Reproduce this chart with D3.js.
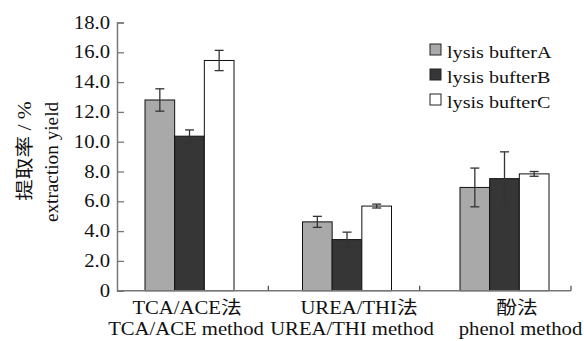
<!DOCTYPE html>
<html>
<head>
<meta charset="utf-8">
<script src="https://cdn.jsdelivr.net/npm/d3@7"></script>
<style>
  body { margin: 0; background: #fff; }
  text { font-family: "Liberation Serif", "Noto Sans CJK SC", serif; fill: #111; }
</style>
</head>
<body>
<div id="chart"></div>
<script>
const width = 584, height = 341;

// data
const methodsCn = ["TCA/ACE法", "UREA/THI法", "酚法"];
const methodsEn = ["TCA/ACE method", "UREA/THI method", "phenol method"];
const buffers = ["lysis bufterA", "lysis bufterB", "lysis bufterC"];
const bufferA = [12.8, 4.62, 6.93];
const bufferB = [10.37, 3.43, 7.52];
const bufferC = [15.45, 5.68, 7.84];
const errA = [0.75, 0.37, 1.3];
const errB = [0.42, 0.5, 1.8];
const errC = [0.68, 0.13, 0.16];
const yTicks = [0, 2, 4, 6, 8, 10, 12, 14, 16, 18];

const colors = ["#a9a9a9", "#363636", "#ffffff"];
const values = [bufferA, bufferB, bufferC];
const errors = [errA, errB, errC];
const sx = 1.15; // glyphs in the original are a bit wide
// labels are nudged off the group centre so the long ones fit
const cnShift = [-2.5, 12, 12.5];
const enShift = [-3.5, 5, 16];

const svg = d3.select("#chart").append("svg")
  .attr("width", width)
  .attr("height", height);

const x0 = 117, x1 = 571, yTop = 22.5, yBot = 290.7;

const y = d3.scaleLinear().domain([0, 18]).range([yBot, yTop]);

// group centres and the sections of the axis
const section = d3.scaleBand().domain(methodsCn).range([x0, x1]);
const xc = d3.scalePoint().domain(methodsCn).range([189.5, 504.5]);
const xs = d3.scaleBand().domain(buffers).range([-44.5, 44.5]);

// bars
buffers.forEach((b, j) => {
  svg.append("g").selectAll("rect")
    .data(methodsCn)
    .enter().append("rect")
    .attr("x", m => xc(m) + xs(b))
    .attr("y", (m, i) => y(values[j][i]))
    .attr("width", xs.bandwidth())
    .attr("height", (m, i) => yBot - y(values[j][i]))
    .attr("fill", colors[j])
    .attr("stroke", "#111")
    .attr("stroke-width", 1);
});

// error bars
buffers.forEach((b, j) => {
  const g = svg.append("g").attr("stroke", "#333").attr("stroke-width", 1.3);
  methodsCn.forEach((m, i) => {
    const cx = xc(m) + xs(b) + xs.bandwidth() / 2;
    const hi = y(values[j][i] + errors[j][i]), lo = y(values[j][i] - errors[j][i]);
    g.append("line").attr("x1", cx).attr("x2", cx).attr("y1", hi).attr("y2", lo);
    g.append("line").attr("x1", cx - 4.5).attr("x2", cx + 4.5).attr("y1", hi).attr("y2", hi);
    g.append("line").attr("x1", cx - 4.5).attr("x2", cx + 4.5).attr("y1", lo).attr("y2", lo);
  });
});

// y axis
const yAxis = svg.append("g")
  .attr("transform", `translate(${x0},0)`)
  .call(d3.axisRight(y).tickValues(yTicks).tickSize(7).tickFormat(""));
yAxis.select(".domain").attr("stroke", "#777").attr("stroke-width", 1.5);
yAxis.selectAll(".tick line").attr("stroke", "#777").attr("stroke-width", 1.3);

svg.append("g").selectAll("text")
  .data(yTicks)
  .enter().append("text")
  .attr("transform", d => `translate(${x0 - 7},${y(d) + 6}) scale(${sx},1)`)
  .attr("text-anchor", "end")
  .style("font-size", "18px")
  .text(d => d === 0 ? "0" : d.toFixed(1));

// x axis
svg.append("line")
  .attr("x1", x0).attr("x2", x1)
  .attr("y1", yBot).attr("y2", yBot)
  .attr("stroke", "#777").attr("stroke-width", 1.5);
svg.append("g").selectAll("line")
  .data(methodsCn)
  .enter().append("line")
  .attr("x1", m => section(m) + section.bandwidth())
  .attr("x2", m => section(m) + section.bandwidth())
  .attr("y1", yBot).attr("y2", yBot - 5)
  .attr("stroke", "#555").attr("stroke-width", 1.3);

// category labels
svg.append("g").selectAll("text")
  .data(methodsCn)
  .enter().append("text")
  .attr("transform", (m, i) => `translate(${xc(m) + cnShift[i]},314) scale(${sx},1)`)
  .attr("text-anchor", "middle")
  .style("font-size", "18px")
  .text(m => m);
svg.append("g").selectAll("text")
  .data(methodsEn)
  .enter().append("text")
  .attr("transform", (m, i) => `translate(${xc(methodsCn[i]) + enShift[i]},335) scale(${sx},1)`)
  .attr("text-anchor", "middle")
  .style("font-size", "18px")
  .text(m => m);

// y title
svg.append("text")
  .attr("transform", "translate(31,151) rotate(-90) scale(1.2,1)")
  .attr("text-anchor", "middle")
  .style("font-size", "18px")
  .text("提取率 / %");
svg.append("text")
  .attr("transform", "translate(58,162) rotate(-90) scale(1.07,1)")
  .attr("text-anchor", "middle")
  .style("font-size", "18px")
  .text("extraction yield");

// legend
const legend = svg.append("g").attr("transform", "translate(430,44)");
buffers.forEach((b, j) => {
  const row = legend.append("g").attr("transform", `translate(0,${j * 25})`);
  row.append("rect")
    .attr("width", 11).attr("height", 11)
    .attr("fill", colors[j])
    .attr("stroke", "#222").attr("stroke-width", 1);
  row.append("text")
    .attr("transform", `translate(17,14) scale(${sx},1)`)
    .style("font-size", "17.5px")
    .text(b);
});
</script>
</body>
</html>
